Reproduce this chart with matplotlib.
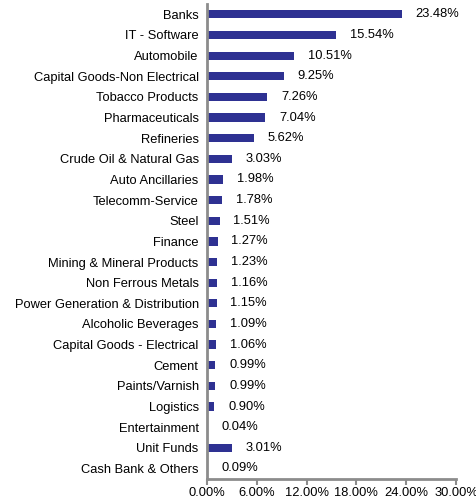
import numpy as np
import matplotlib.pyplot as plt
from matplotlib.ticker import FuncFormatter

plt.rcParams["font.family"] = ["Liberation Sans", "DejaVu Sans"]

sectors = [
    "Banks", "IT - Software", "Automobile", "Capital Goods-Non Electrical",
    "Tobacco Products", "Pharmaceuticals", "Refineries", "Crude Oil & Natural Gas",
    "Auto Ancillaries", "Telecomm-Service", "Steel", "Finance",
    "Mining & Mineral Products", "Non Ferrous Metals", "Power Generation & Distribution",
    "Alcoholic Beverages", "Capital Goods - Electrical", "Cement", "Paints/Varnish",
    "Logistics", "Entertainment", "Unit Funds", "Cash Bank & Others",
]
weights = [
    23.48, 15.54, 10.51, 9.25, 7.26, 7.04, 5.62, 3.03, 1.98, 1.78, 1.51, 1.27,
    1.23, 1.16, 1.15, 1.09, 1.06, 0.99, 0.99, 0.90, 0.04, 3.01, 0.09,
]
x_ticks = [0, 6, 12, 18, 24, 30]

fig = plt.figure(figsize=(4.77, 5.04), dpi=100)
ax = fig.add_axes([0.434, 0.05, 0.522, 0.942])

y = np.arange(len(sectors))
ax.barh(y, weights, height=0.4, color="#2E3192")

# value labels to the right of each bar
for yi, w in zip(y, weights):
    ax.annotate(f"{w:.2f}%", (w, yi), xytext=(10, 0), textcoords="offset points",
                va="center", ha="left", fontsize=9.3)

ax.set_yticks(y)
ax.set_yticklabels(sectors, fontsize=9.3)
ax.set_ylim(len(sectors) - 0.5, -0.5)
ax.set_xlim(0, 30)
ax.set_xticks(x_ticks)
ax.xaxis.set_major_formatter(FuncFormatter(lambda v, p: f"{v:.2f}%"))
ax.tick_params(axis="x", labelsize=9.3, length=4, width=1.5, color="#8c8c8c", pad=2)
ax.tick_params(axis="y", length=0, pad=6)

for side in ["top", "right"]:
    ax.spines[side].set_visible(False)
for side in ["left", "bottom"]:
    ax.spines[side].set_color("#8c8c8c")
    ax.spines[side].set_linewidth(2)

fig.savefig("out.png", dpi=100)
